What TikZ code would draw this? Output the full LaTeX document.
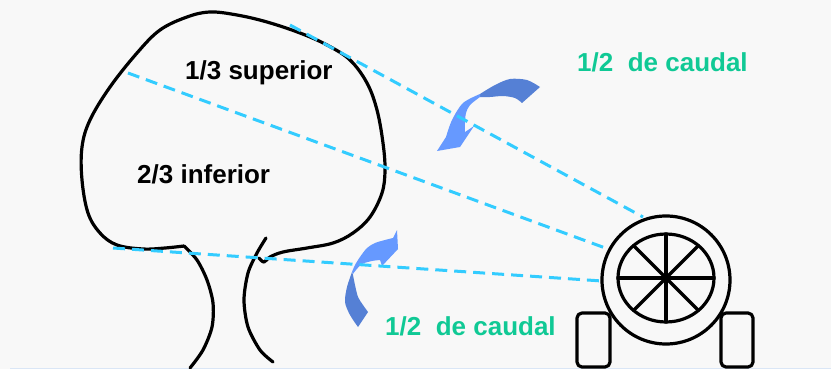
\documentclass[tikz,border=0pt]{standalone}
\usepackage{fontspec}
\setmainfont{Liberation Sans}
\definecolor{bgcol}{RGB}{248,248,248}
\definecolor{groundstrip}{RGB}{218,230,246}
\definecolor{flowcyan}{RGB}{51,204,255}
\definecolor{labelgreen}{RGB}{16,201,149}
\definecolor{arrowlight}{RGB}{102,153,255}
\definecolor{arrowdark}{RGB}{85,128,213}
\begin{document}
\begin{tikzpicture}[x=1pt,y=-1pt,
  outline/.style={draw=black,line width=3.2pt,line cap=round,line join=round},
  flow/.style={draw=flowcyan,line width=3pt,dash pattern=on 12pt off 7pt},
  darklabel/.style={font=\fontsize{26}{30}\selectfont\bfseries,text=black,anchor=base west,inner sep=0pt},
  greenlabel/.style={font=\fontsize{26}{30}\selectfont\bfseries,text=labelgreen,anchor=base west,inner sep=0pt}]
% canvas
\fill[bgcol] (0,0) rectangle (831,369);
\useasboundingbox (0,0) rectangle (831,369);
\fill[groundstrip] (10,367.5) rectangle (831,369);

% curved arrow, upper (points down-left)
\fill[arrowdark] plot[smooth] coordinates {(480,94) (495,85) (510,79) (527,80) (540,87)}
  -- (522,103) -- plot[smooth] coordinates {(522,103) (515,98) (503,96) (490,97) (480,97)} -- cycle;
\fill[arrowlight] plot[smooth] coordinates {(480,94) (463,103) (452,120) (446,137)}
  -- (437,151) -- (460,147) -- (474,126) -- (465,132)
  -- plot[smooth] coordinates {(465,132) (465,123) (466,113) (470,105) (480,97)} -- cycle;

% curved arrow, lower (points up-right)
\fill[arrowdark] plot[smooth] coordinates {(352,272) (347,287) (345,302) (350,315) (358,327)}
  -- (368,312) -- plot[smooth] coordinates {(368,312) (363,305) (358,297) (355,285) (353,275)} -- cycle;
\fill[arrowlight] plot[smooth] coordinates {(352,272) (355,265) (360,257) (367,248) (375,243) (385,240) (393,238)}
  -- (397,230) -- (398,249) -- (382,266) -- (380,260)
  -- plot[smooth] coordinates {(380,260) (372,261) (362,264) (356,270) (353,274)} -- cycle;

% tree crown and trunk
\draw[outline] plot[smooth,tension=0.6] coordinates {
  (184,246) (165,248) (143,249) (117,245) (100,233) (88,213) (82,180) (82,147)
  (90,120) (110,87) (137,53) (160,30) (187,17) (210,12) (237,15) (267,22)
  (300,33) (327,45) (350,60) (367,83) (377,110) (383,143) (385,170) (382,193)
  (370,217) (353,233) (333,243) (307,248) (283,252) (270,257) (264,262) (259,258)};
\draw[outline] plot[smooth] coordinates {(184,246) (197,260) (207,280) (213,303) (212,327) (203,350) (190,368)};
\draw[outline] plot[smooth] coordinates {(266,238) (257,253) (248,273) (244,300) (248,327) (260,350) (273,362)};

% blower
\coordinate (fc) at (666,280);
\coordinate (hub) at (666,278);
\draw[outline] (fc) circle[radius=64pt];
\draw[outline] (hub) ellipse[x radius=48pt,y radius=44pt];
\draw[outline] (666,234) -- (666,322);
\draw[outline] (618,278) -- (714,278);
\draw[outline] (633.6,245.6) -- (698.4,310.4);
\draw[outline] (698.4,245.6) -- (633.6,310.4);
\draw[outline,rounded corners=5pt] (577,313) rectangle (610,367);
\draw[outline,rounded corners=5pt] (721,313) rectangle (753,367);

% spray lines from the blower to the crown
\coordinate (t1) at (290,25);
\coordinate (t2) at (128,73);
\coordinate (t3) at (113,248);
\coordinate (f1) at (643,217);
\coordinate (f2) at (608,249);
\coordinate (f3) at (602,281);
\draw[flow] (t1) -- (f1);
\draw[flow] (t2) -- (f2);
\draw[flow] (t3) -- (f3);

% labels
\node[darklabel] (sup) at (185,80) {1/3 superior};
\node[darklabel] (inf) at (137,183) {2/3 inferior};
\node[greenlabel] (qtop) at (577,72) {1/2\ \ de caudal};
\node[greenlabel] (qbot) at (385,335) {1/2\ \ de caudal};
\end{tikzpicture}
\end{document}
